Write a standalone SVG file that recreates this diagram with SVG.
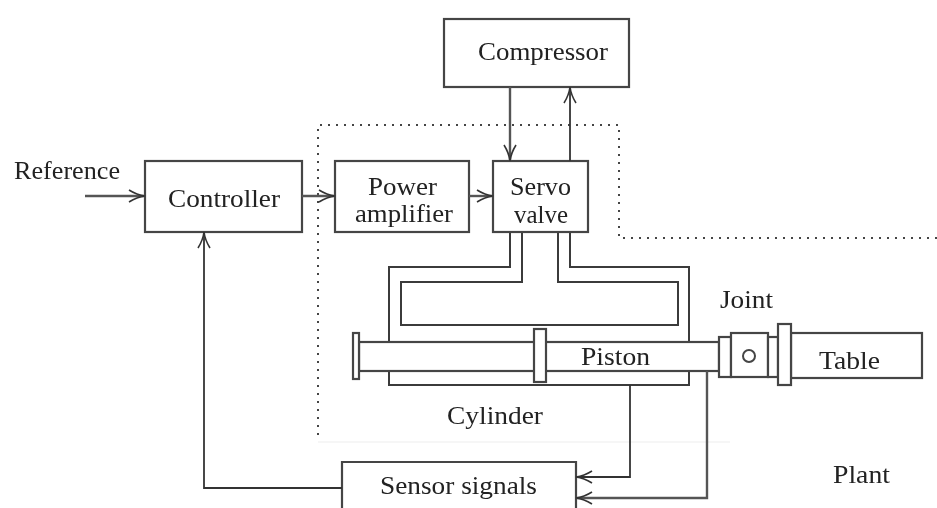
<svg xmlns="http://www.w3.org/2000/svg" width="937" height="508" viewBox="0 0 937 508">
<style>
.b{fill:#fff;stroke:#444;stroke-width:2.2}
.p{fill:none;stroke:#3a3a3a;stroke-width:2}
.c{fill:none;stroke:#333;stroke-width:1.8}
.h{fill:none;stroke:#555;stroke-width:2.4}
.d{fill:none;stroke:#444;stroke-width:2;stroke-dasharray:2 6}
text{font-family:"Liberation Serif","Times New Roman",serif;font-size:25px;fill:#222}
</style>
<defs>
<marker id="a" markerWidth="20" markerHeight="16" refX="17" refY="8" orient="auto" markerUnits="userSpaceOnUse"><path d="M1 2Q9 7 17 8Q9 9 1 14" fill="none" stroke="#333" stroke-width="1.6"/></marker>
<filter id="s" x="-2%" y="-2%" width="104%" height="104%"><feGaussianBlur stdDeviation="0.45"/></filter>
</defs>
<g filter="url(#s)">
<g id="boundary">
<path class="d" d="M318 435V125H619V238H937"/>
<path d="M318 442H730" stroke="#f6f6f6" stroke-width="2" fill="none"/>
</g>
<g id="cylinder">
<path class="p" d="M510 232V267H389V385H689V267H570V232"/>
<path class="p" d="M522 232V282H401V325H678V282H558V232"/>
<text x="447" y="424" textLength="96" lengthAdjust="spacingAndGlyphs">Cylinder</text>
</g>
<g id="piston">
<rect class="b" x="359" y="342" width="360" height="29"/>
<rect class="b" x="353" y="333" width="6" height="46"/>
<rect class="b" x="534" y="329" width="12" height="53"/>
<text x="581" y="365" textLength="69" lengthAdjust="spacingAndGlyphs">Piston</text>
</g>
<g id="joint">
<rect class="b" x="719" y="337" width="12" height="40"/>
<rect class="b" x="731" y="333" width="37" height="44"/>
<circle cx="749" cy="356" r="6" fill="#fff" stroke="#444" stroke-width="2"/>
<rect class="b" x="768" y="337" width="10" height="40"/>
<text x="720" y="308" textLength="53" lengthAdjust="spacingAndGlyphs">Joint</text>
</g>
<g id="table">
<rect class="b" x="791" y="333" width="131" height="45"/>
<rect class="b" x="778" y="324" width="13" height="61"/>
<text x="819" y="369" textLength="61" lengthAdjust="spacingAndGlyphs">Table</text>
</g>
<g id="compressor">
<rect class="b" x="444" y="19" width="185" height="68"/>
<text x="478" y="60" textLength="130" lengthAdjust="spacingAndGlyphs">Compressor</text>
</g>
<g id="controller">
<rect class="b" x="145" y="161" width="157" height="71"/>
<text x="168" y="207" textLength="112" lengthAdjust="spacingAndGlyphs">Controller</text>
</g>
<g id="power-amplifier">
<rect class="b" x="335" y="161" width="134" height="71"/>
<text x="368" y="195" textLength="69" lengthAdjust="spacingAndGlyphs">Power</text>
<text x="355" y="222" textLength="98" lengthAdjust="spacingAndGlyphs">amplifier</text>
</g>
<g id="servo-valve">
<rect class="b" x="493" y="161" width="95" height="71"/>
<text x="510" y="195" textLength="61" lengthAdjust="spacingAndGlyphs">Servo</text>
<text x="514" y="223" textLength="54" lengthAdjust="spacingAndGlyphs">valve</text>
</g>
<g id="sensor-signals">
<path class="b" d="M342 508V462H576V508"/>
<text x="380" y="494" textLength="157" lengthAdjust="spacingAndGlyphs">Sensor signals</text>
</g>
<g id="reference-label"><text x="14" y="179" textLength="106" lengthAdjust="spacingAndGlyphs">Reference</text></g>
<g id="plant-label"><text x="833" y="483" textLength="57" lengthAdjust="spacingAndGlyphs">Plant</text></g>
<g id="connectors">
<path class="h" marker-end="url(#a)" d="M85 196H145"/>
<path class="h" marker-end="url(#a)" d="M302 196H335"/>
<path class="h" marker-end="url(#a)" d="M469 196H493"/>
<path class="h" marker-end="url(#a)" d="M510 87V161"/>
<path class="c" marker-end="url(#a)" d="M570 161V87"/>
<path class="c" marker-end="url(#a)" d="M342 488H204V232"/>
<path class="c" marker-end="url(#a)" d="M630 385V477H576"/>
<path class="h" marker-end="url(#a)" d="M707 371V498H576"/>
</g>
</g>
</svg>
